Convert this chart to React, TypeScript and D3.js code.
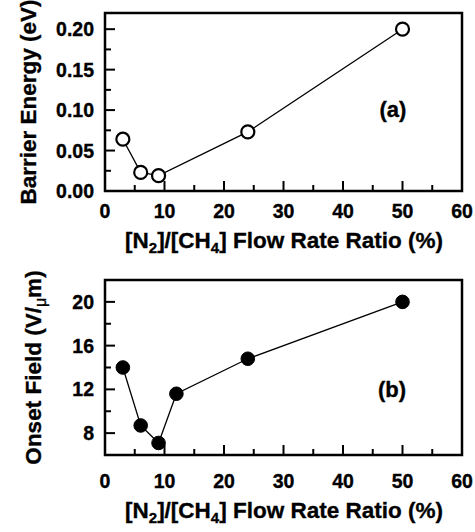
import React, { useEffect, useRef } from "react";
import * as d3 from "d3";

const ratioA = [3, 6, 9, 24, 50];
const barrierEnergy = [0.064, 0.023, 0.019, 0.073, 0.2];
const ratioB = [3, 6, 9, 12, 24, 50];
const onsetField = [14.0, 8.7, 7.1, 11.6, 14.8, 20.0];
const xMajorTicks = [0, 10, 20, 30, 40, 50, 60];
const xMinorTicks = [5, 15, 25, 35, 45, 55];
const yTicksA = [0, 0.05, 0.1, 0.15, 0.2];
const yMinorA = [0.025, 0.075, 0.125, 0.175];
const yTicksB = [8, 12, 16, 20];
const yMinorB = [10, 14, 18];

const FONT = "'Liberation Sans', Arial, Helvetica, sans-serif";

export default function App() {
  const ref = useRef<SVGSVGElement | null>(null);

  useEffect(() => {
    const svg = d3.select(ref.current);
    svg.selectAll("*").remove();

    const panels = [
      {
        xs: ratioA, ys: barrierEnergy, top: 13, bottom: 191, yDomain: [0, 0.22],
        yTicks: yTicksA, yMinor: yMinorA, fmt: d3.format(".2f"), filled: false,
        tickBase: 218, titleBase: 248, label: "(a)", labelPos: [393, 117],
        yTitle: "Barrier Energy (eV)", yTitleX: 36,
      },
      {
        xs: ratioB, ys: onsetField, top: 280, bottom: 455, yDomain: [6, 22],
        yTicks: yTicksB, yMinor: yMinorB, fmt: d3.format("d"), filled: true,
        tickBase: 488, titleBase: 518, label: "(b)", labelPos: [392, 397],
        yTitle: "Onset Field (V/μm)", yTitleX: 41,
      },
    ];

    const left = 105, right = 462;
    const x = d3.scaleLinear().domain([0, 60]).range([left, right]);

    panels.forEach((p) => {
      const y = d3.scaleLinear().domain(p.yDomain).range([p.bottom, p.top]);
      const g = svg.append("g");

      // ticks (inward)
      g.selectAll(".xmaj").data(xMajorTicks.slice(1, -1)).enter().append("line")
        .attr("x1", (d) => x(d)).attr("x2", (d) => x(d))
        .attr("y1", p.bottom).attr("y2", p.bottom - 10)
        .attr("stroke", "#000").attr("stroke-width", 2);
      g.selectAll(".xmin").data(xMinorTicks).enter().append("line")
        .attr("x1", (d) => x(d)).attr("x2", (d) => x(d))
        .attr("y1", p.bottom).attr("y2", p.bottom - 6)
        .attr("stroke", "#000").attr("stroke-width", 2);
      g.selectAll(".ymaj").data(p.yTicks).enter().append("line")
        .attr("x1", left).attr("x2", left + 10)
        .attr("y1", (d) => y(d)).attr("y2", (d) => y(d))
        .attr("stroke", "#000").attr("stroke-width", 2);
      g.selectAll(".ymin").data(p.yMinor).enter().append("line")
        .attr("x1", left).attr("x2", left + 6)
        .attr("y1", (d) => y(d)).attr("y2", (d) => y(d))
        .attr("stroke", "#000").attr("stroke-width", 2);

      // frame
      g.append("rect")
        .attr("x", left).attr("y", p.top)
        .attr("width", right - left).attr("height", p.bottom - p.top)
        .attr("fill", "none").attr("stroke", "#000").attr("stroke-width", 2.5);

      const heavy = (sel: any) => sel.attr("stroke", "#000").attr("stroke-width", 0.35);

      // tick labels
      heavy(g.selectAll(".xl").data(xMajorTicks).enter().append("text")
        .attr("x", (d) => x(d)).attr("y", p.tickBase)
        .attr("text-anchor", "middle")
        .attr("font-family", FONT).attr("font-weight", "bold").attr("font-size", 19.5)
        .text((d) => String(d)));
      heavy(g.selectAll(".yl").data(p.yTicks).enter().append("text")
        .attr("x", 94).attr("y", (d) => y(d)).attr("dy", "0.36em")
        .attr("text-anchor", "end")
        .attr("font-family", FONT).attr("font-weight", "bold").attr("font-size", 19.5)
        .text((d) => p.fmt(d)));

      // x title
      const xt = heavy(g.append("text")
        .attr("x", (left + right) / 2 + 0.5).attr("y", p.titleBase)
        .attr("text-anchor", "middle")
        .attr("font-family", FONT).attr("font-weight", "bold").attr("font-size", 22.5));
      xt.append("tspan").text("[N");
      xt.append("tspan").attr("font-size", 15).attr("dy", 5).text("2");
      xt.append("tspan").attr("dy", -5).text("]/[CH");
      xt.append("tspan").attr("font-size", 15).attr("dy", 5).text("4");
      xt.append("tspan").attr("dy", -5).text("] Flow Rate Ratio (%)");

      // y title
      const yt = heavy(g.append("text")
        .attr("transform", `translate(${p.yTitleX},${(p.top + p.bottom) / 2}) rotate(-90)`)
        .attr("text-anchor", "middle")
        .attr("font-family", FONT).attr("font-weight", "bold").attr("font-size", 22.5));
      if (p.filled) {
        yt.append("tspan").text("Onset Field (V/");
        yt.append("tspan").attr("font-size", 16).attr("dy", 5).attr("font-weight", "normal").text("μ");
        yt.append("tspan").attr("dy", -5).text("m)");
      } else {
        yt.text(p.yTitle);
      }

      // panel label
      heavy(g.append("text")
        .attr("x", p.labelPos[0]).attr("y", p.labelPos[1])
        .attr("text-anchor", "middle")
        .attr("font-family", FONT).attr("font-weight", "bold").attr("font-size", 22)
        .text(p.label));

      // line
      const pts = p.xs.map((v, i) => [v, p.ys[i]] as [number, number]);
      const line = d3.line<[number, number]>().x((d) => x(d[0])).y((d) => y(d[1]));
      g.append("path").attr("d", line(pts) || "")
        .attr("fill", "none").attr("stroke", "#000").attr("stroke-width", 1.3);

      g.selectAll(".pt").data(pts).enter().append("circle")
        .attr("cx", (d) => x(d[0])).attr("cy", (d) => y(d[1]))
        .attr("r", p.filled ? 6.8 : 6.5)
        .attr("fill", p.filled ? "#000" : "#fff")
        .attr("stroke", "#000").attr("stroke-width", p.filled ? 1 : 2.2);
    });
  }, []);

  return (
    <svg
      ref={ref}
      width={475}
      height={532}
      style={{ position: "absolute", left: 0, top: 0, background: "#fff" }}
    />
  );
}
